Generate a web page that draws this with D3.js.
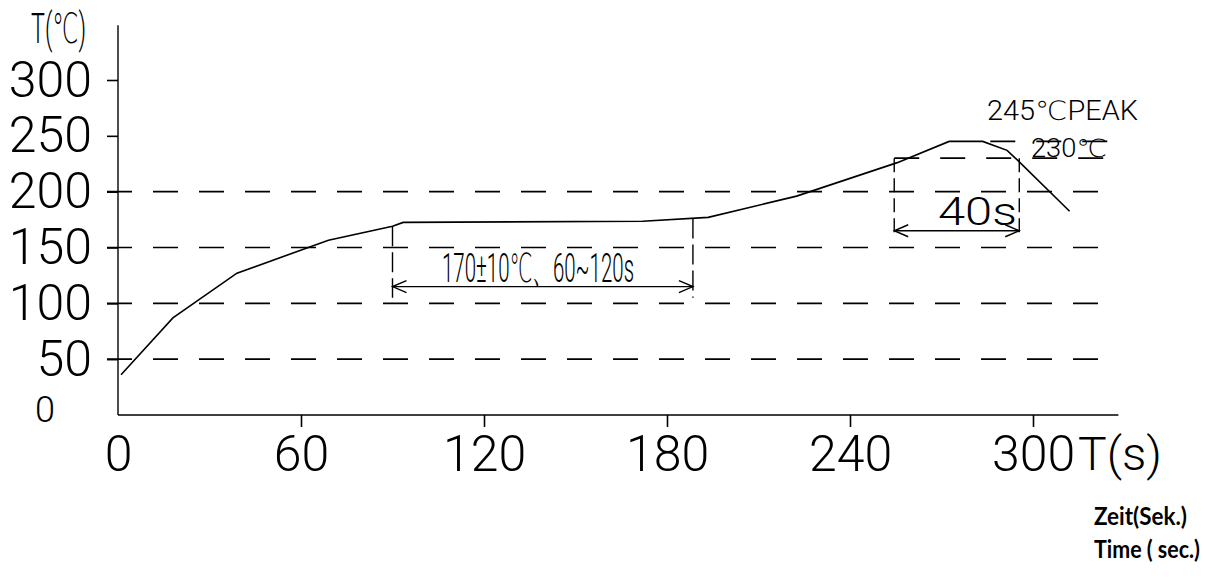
<!DOCTYPE html>
<html lang="en">
<head>
<meta charset="UTF-8">
<title>Reflow soldering profile</title>
<script src="https://d3js.org/d3.v7.min.js"></script>
<style>
  body { margin: 0; background: #fff; }
  svg { display: block; }
  .cad { font-family: Roboto, "DejaVu Sans", sans-serif; font-weight: 300; fill: #000; }
  .axis path, .axis line { stroke: #000; stroke-width: 1.6px; }
  .grid { stroke: #000; stroke-width: 1.6px; stroke-dasharray: 25 21; }
  .mark { stroke: #000; stroke-width: 1.4px; fill: none; }
  .curve { stroke: #000; stroke-width: 1.6px; fill: none; }
  .note { font-family: Lato, "Noto Sans", sans-serif; font-weight: 700; fill: #000; }
</style>
</head>
<body>
<svg width="1231" height="584"></svg>
<script>
// profile (seconds, degrees C)
const timeS = [1, 18, 39, 69, 90, 93.5, 172, 193.5, 222.5, 255.5, 272.5, 283.5, 291.5, 295, 312];
const tempC = [36, 87, 127, 156.5, 169, 172.5, 173.5, 177, 196, 226, 245, 245, 237, 228, 182.5];

const xTicks = [0, 60, 120, 180, 240, 300];
const yTicks = [50, 100, 150, 200, 250, 300];
const gridTemps = [50, 100, 150, 200];

const soakZone = [90, 188.5];     // dashed verticals of the 170 zone
const reflowZone = [254.5, 295.5]; // 40 s above 230
const peakTemp = 245;
const liquidTemp = 230;

const svg = d3.select("svg");

const x = d3.scaleLinear().domain([0, 300]).range([118, 1033]);
const y = d3.scaleLinear().domain([0, 300]).range([415, 80]);

const xEnd = 328, yTop = 349, gridEnd = 326.5;

// dashed grid lines
svg.append("g").selectAll("line")
    .data(gridTemps)
    .enter().append("line")
    .attr("class", "grid")
    .attr("x1", 107).attr("x2", x(gridEnd))
    .attr("y1", d => y(d)).attr("y2", d => y(d));

// y axis
const yAxis = svg.append("g")
    .attr("class", "axis")
    .attr("transform", `translate(${x(0)},0)`)
    .call(d3.axisLeft(y).tickValues(yTicks).tickSize(11).tickPadding(15).tickSizeOuter(0));
yAxis.select(".domain").remove();
yAxis.selectAll("text").attr("class", "cad").attr("font-size", 50).attr("font-family", null);
svg.append("line").attr("class", "mark").attr("stroke-width", 2)
    .attr("x1", x(0)).attr("x2", x(0)).attr("y1", y(yTop)).attr("y2", y(0));

// the lone 0 on the temperature axis
svg.append("text").attr("class", "cad")
    .attr("x", 45).attr("y", y(0) + 7)
    .attr("text-anchor", "middle").attr("font-size", 36)
    .text("0");

// x axis
const xAxis = svg.append("g")
    .attr("class", "axis")
    .attr("transform", `translate(0,${y(0)})`)
    .call(d3.axisBottom(x).tickValues(xTicks).tickSize(12).tickPadding(8).tickSizeOuter(0));
xAxis.select(".domain").remove();
xAxis.selectAll(".tick line").filter(d => d === 0).remove();
xAxis.selectAll("text").attr("class", "cad").attr("font-size", 50).attr("font-family", null);
svg.append("line").attr("class", "mark").attr("stroke-width", 2)
    .attr("x1", x(0)).attr("x2", x(xEnd)).attr("y1", y(0)).attr("y2", y(0));

// axis titles
svg.append("text").attr("class", "cad")
    .attr("x", 31).attr("y", 43).attr("font-size", 42)
    .attr("textLength", 55).attr("lengthAdjust", "spacingAndGlyphs")
    .text("T(℃)");
svg.append("text").attr("class", "cad")
    .attr("x", 1078).attr("y", 470).attr("font-size", 46)
    .attr("textLength", 84).attr("lengthAdjust", "spacingAndGlyphs")
    .text("T(s)");

// temperature curve
const line = d3.line().x(d => x(d[0])).y(d => y(d[1]));
svg.append("path")
    .attr("class", "curve")
    .attr("d", line(d3.zip(timeS, tempC)));

// arrow helper
function dimArrow(t0, t1, temp) {
    const g = svg.append("g");
    const yy = y(temp), a = x(t0), b = x(t1);
    g.append("line").attr("class", "mark").attr("x1", a).attr("x2", b).attr("y1", yy).attr("y2", yy);
    g.append("path").attr("class", "mark").attr("d", `M${a + 14},${yy - 6}L${a},${yy}L${a + 14},${yy + 6}`);
    g.append("path").attr("class", "mark").attr("d", `M${b - 14},${yy - 6}L${b},${yy}L${b - 14},${yy + 6}`);
}

// soak zone
const soakTop = [169, 176];
soakZone.forEach((t, i) => {
    svg.append("line").attr("class", "mark").attr("stroke-dasharray", "20 6")
        .attr("x1", x(t)).attr("x2", x(t))
        .attr("y1", y(soakTop[i])).attr("y2", y(105));
});
dimArrow(soakZone[0], soakZone[1], 115);
svg.append("text").attr("class", "cad")
    .attr("x", 442).attr("y", 282).attr("font-size", 40)
    .attr("textLength", 192).attr("lengthAdjust", "spacingAndGlyphs")
    .text("170±10℃、60~120s");

// reflow zone
svg.append("line").attr("class", "grid")
    .attr("x1", x(reflowZone[0])).attr("x2", x(gridEnd))
    .attr("y1", y(liquidTemp)).attr("y2", y(liquidTemp));
svg.append("line").attr("class", "grid")
    .attr("x1", x(286)).attr("x2", x(gridEnd))
    .attr("y1", y(peakTemp)).attr("y2", y(peakTemp));
reflowZone.forEach(t => {
    svg.append("line").attr("class", "mark").attr("stroke-dasharray", "14 6")
        .attr("x1", x(t)).attr("x2", x(t))
        .attr("y1", y(liquidTemp)).attr("y2", y(160));
});
dimArrow(reflowZone[0], reflowZone[1], 165);
svg.append("text").attr("class", "cad")
    .attr("x", 938).attr("y", 225).attr("font-size", 38)
    .attr("textLength", 79).attr("lengthAdjust", "spacingAndGlyphs")
    .text("40s");
svg.append("text").attr("class", "cad")
    .attr("x", 1031).attr("y", y(liquidTemp) - 1).attr("font-size", 25)
    .attr("textLength", 76).attr("lengthAdjust", "spacingAndGlyphs")
    .text("230℃");
svg.append("text").attr("class", "cad")
    .attr("x", 987).attr("y", 120).attr("font-size", 27)
    .attr("textLength", 151).attr("lengthAdjust", "spacingAndGlyphs")
    .text("245℃PEAK");

// caption
svg.append("text").attr("class", "note")
    .attr("x", 1094).attr("y", 525).attr("font-size", 25)
    .attr("textLength", 93).attr("lengthAdjust", "spacingAndGlyphs")
    .text("Zeit(Sek.)");
svg.append("text").attr("class", "note")
    .attr("x", 1094).attr("y", 558).attr("font-size", 25)
    .attr("textLength", 106).attr("lengthAdjust", "spacingAndGlyphs")
    .text("Time ( sec.)");
</script>
</body>
</html>
